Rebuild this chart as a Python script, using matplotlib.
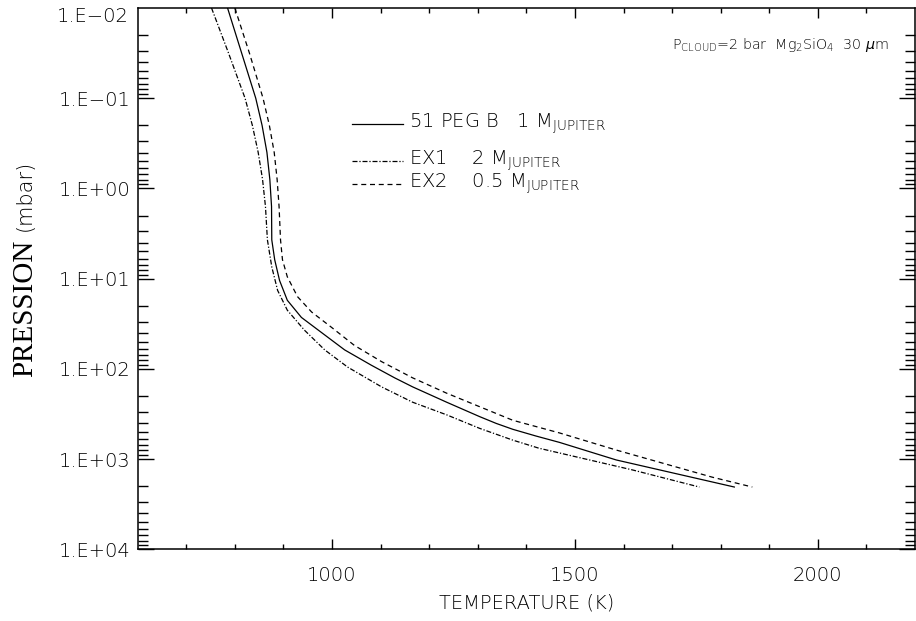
import numpy as np
from matplotlib import pyplot as plt
from matplotlib.ticker import FixedLocator, FuncFormatter, NullFormatter

# temperature (K) / pressure (mbar) profiles
T_peg = [785, 814, 843, 856, 866, 872, 875.5, 876, 882, 892, 908, 937, 979, 1026, 1081,
         1129, 1166, 1236, 1304, 1338, 1372, 1420, 1468, 1585, 1828]
logP_peg = [-2.0, -1.5, -1.0, -0.7, -0.4, -0.1, 0.2, 0.57, 0.79, 1.02, 1.24, 1.43, 1.60,
            1.79, 1.96, 2.10, 2.20, 2.37, 2.53, 2.605, 2.67, 2.745, 2.815, 3.01, 3.31]

T_ex1 = [752, 787, 821, 836, 848, 857, 863, 867, 876, 888, 908, 943, 985, 1032, 1102,
         1166, 1236, 1304, 1372, 1426, 1618, 1756]
logP_ex1 = [-2.0, -1.5, -1.0, -0.7, -0.4, -0.1, 0.2, 0.57, 0.87, 1.13, 1.35, 1.57, 1.79,
            1.98, 2.20, 2.37, 2.51, 2.66, 2.79, 2.88, 3.12, 3.31]

T_ex2 = [800, 830, 858, 871, 881, 887, 891, 894, 898, 908, 929, 958, 999, 1046, 1102,
         1166, 1236, 1304, 1372, 1468, 1585, 1782, 1865]
logP_ex2 = [-2.0, -1.5, -1.0, -0.7, -0.4, -0.1, 0.2, 0.57, 0.79, 0.98, 1.20, 1.37, 1.54,
            1.74, 1.92, 2.10, 2.27, 2.42, 2.57, 2.71, 2.90, 3.20, 3.31]

labels = ["51 PEG B   1 M$_{\\mathrm{JUPITER}}$",
          "EX1    2 M$_{\\mathrm{JUPITER}}$",
          "EX2    0.5 M$_{\\mathrm{JUPITER}}$"]
styles = ["-", (0, (4, 1.5, 1, 1.5)), (0, (4, 3))]

plt.rcParams['font.weight'] = 'light'
plt.rcParams['axes.labelweight'] = 'light'

fig = plt.figure(figsize=(9.16, 6.21), dpi=100)
ax = fig.add_axes([0.1503, 0.1155, 0.8487, 0.8716])

curves = [(T_peg, logP_peg), (T_ex1, logP_ex1), (T_ex2, logP_ex2)]
for (t, lp), ls in zip(curves, styles):
    ax.plot(t, 10 ** np.array(lp), color="black", lw=0.9, ls=ls)

ax.set_yscale("log")
ax.set_ylim(1e4, 1e-2)
ax.set_xlim(600, 2200)

def ylab(v, p):
    e = int(round(np.log10(v)))
    return "1.E%s%02d" % ("\u2212" if e < 0 else "+", abs(e))

ax.xaxis.set_major_locator(FixedLocator([1000, 1500, 2000]))
ax.xaxis.set_minor_locator(FixedLocator(np.arange(700, 2200, 100)))
ax.yaxis.set_major_locator(FixedLocator(10.0 ** np.arange(-1, 5)))
ax.yaxis.set_minor_locator(FixedLocator(
    [m * 10.0 ** e for e in range(-2, 4) for m in range(2, 10)]))
ax.yaxis.set_minor_formatter(NullFormatter())
ax.yaxis.set_major_formatter(FuncFormatter(ylab))

ax.tick_params(axis="both", which="both", direction="in", top=True, right=True,
               colors="black", labelsize=14, width=1.0)
ax.tick_params(axis="x", which="major", length=7.5, pad=12)
ax.tick_params(axis="x", which="minor", length=3.6)
ax.tick_params(axis="y", which="major", length=11.5, pad=5)
ax.tick_params(axis="y", which="minor", length=7.2)
for s in ax.spines.values():
    s.set_linewidth(1.1)

ax.set_xlabel("TEMPERATURE (K)", fontsize=14, labelpad=6)
# top y label, sits a little under the corner as in the original
fig.text(129 / 916, 1 - 17 / 621, "1.E\u221202", fontsize=14, ha="right", va="center")

# y label: serif word + sans units
fig.text(0.027, 1 - 377 / 621, "PRESSION", rotation=90, family="Liberation Serif",
         fontsize=21, ha="center", va="bottom", weight="normal")
fig.text(0.027, 1 - 231 / 621, "(mbar)", rotation=90, fontsize=15, ha="center", va="bottom")

# hand-drawn legend
leg_y = [1 - 124 / 621, 1 - 161 / 621, 1 - 184 / 621]
for y, lab, ls in zip(leg_y, labels, styles):
    fig.add_artist(plt.Line2D([352 / 916, 403 / 916], [y, y], color="black", lw=0.9, ls=ls))
    fig.text(409 / 916, y, lab, fontsize=14, va="center", ha="left")

fig.text(672 / 916, 1 - 45 / 621,
         "P$_{\\mathrm{CLOUD}}$=2 bar  Mg$_2$SiO$_4$  30 $\\mu$m",
         fontsize=10.3, va="center", ha="left")

fig.savefig("out.png", dpi=100)
